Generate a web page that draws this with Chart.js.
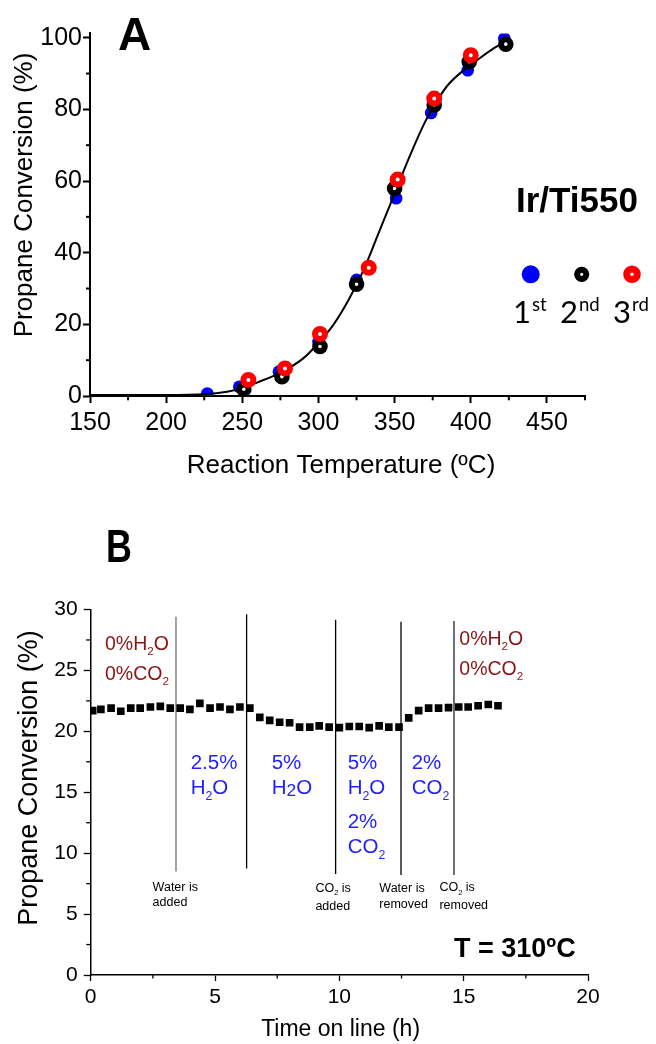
<!DOCTYPE html>
<html><head><meta charset="utf-8">
<script src="https://cdn.jsdelivr.net/npm/chart.js@4.4.1/dist/chart.umd.min.js"></script>
<style>
html,body{margin:0;padding:0;background:#fff;width:656px;height:1044px;overflow:hidden}
#ca{position:absolute;left:0;top:0}
#cb{position:absolute;left:0;top:500px}
</style></head><body>
<canvas id="ca" width="656" height="500"></canvas>
<canvas id="cb" width="656" height="544"></canvas>
<script>
// ---------- Panel A data ----------
const tempRun1 = [227, 248, 274, 300, 325, 351, 374, 398, 422];
const convRun1 = [0.7, 2.6, 6.8, 15.1, 32.4, 55.2, 79.0, 90.9, 99.8];
const tempRun2 = [251, 276, 301, 325, 350, 376, 399, 423];
const convRun2 = [1.9, 5.4, 13.8, 31.2, 57.9, 81.2, 93.3, 98.2];
const tempRun3 = [254, 278, 301, 333, 352, 376, 400];
const convRun3 = [4.5, 7.7, 17.3, 35.8, 60.4, 83.0, 95.1];
const fitTemp = [150, 200, 225, 240, 250, 260, 275, 290, 300, 310, 320, 330, 340, 350, 360, 370, 378, 385, 395, 405, 415, 423];
const fitConv = [0.3, 0.3, 0.5, 1.2, 2.2, 3.8, 6.5, 10.5, 14.8, 20.0, 27.0, 35.5, 46.0, 56.5, 67.0, 76.5, 82.5, 86.8, 90.8, 94.0, 97.0, 99.0];
const runLabels = ['1st', '2nd', '3rd'];
const xTicksA = [150, 200, 250, 300, 350, 400, 450];
const yTicksA = [0, 20, 40, 60, 80, 100];

// ---------- Panel B data ----------
const timeOnLine = [0.08, 0.41, 0.82, 1.21, 1.61, 1.99, 2.40, 2.80, 3.20, 3.60, 3.99, 4.39, 4.80, 5.20, 5.60, 6.00, 6.40,
  6.80, 7.20, 7.60, 8.00, 8.40, 8.81, 9.19, 9.59, 10.00, 10.40, 10.80, 11.20, 11.60, 11.99, 12.40,
  12.79, 13.19, 13.59, 13.99, 14.39, 14.80, 15.18, 15.58, 15.99, 16.38];
const conversionB = [21.7, 21.8, 21.9, 21.65, 21.9, 21.9, 22.0, 22.05, 21.9, 21.9, 21.8, 22.3, 21.9, 22.0, 21.8, 22.0, 21.9,
  21.15, 20.9, 20.75, 20.7, 20.35, 20.35, 20.45, 20.35, 20.3, 20.4, 20.4, 20.3, 20.45, 20.35, 20.35,
  21.1, 21.7, 21.9, 21.9, 21.95, 22.0, 22.0, 22.1, 22.2, 22.1];
const eventTimes = [3.43, 6.27, 9.85, 12.48, 14.61];
const eventTop = [29.4, 29.6, 29.15, 29.0, 29.05];
const eventBottom = [8.5, 8.75, 8.3, 8.2, 8.2];
const eventColors = ['#707070', '#000000', '#000000', '#000000', '#222222'];
const xTicksB = [0, 5, 10, 15, 20];
const yTicksB = [0, 5, 10, 15, 20, 25, 30];

const FONT = "'Liberation Sans', Arial, Helvetica, sans-serif";
const pts = (xs, ys) => xs.map((x, i) => ({x: x, y: ys[i]}));

// minor ticks plugin (drawn from the scales)
const minorTicks = {
  id: 'minorTicks',
  afterDraw(chart, args, opts) {
    const ctx = chart.ctx;
    ctx.save();
    ctx.strokeStyle = '#000';
    for (const spec of opts.specs || []) {
      const sc = chart.scales[spec.id];
      ctx.lineWidth = spec.width;
      for (let v = sc.min + spec.step; v <= sc.max + 1e-9; v += spec.step) {
        const r = v / spec.major;
        if (Math.abs(r - Math.round(r)) < 1e-6) continue;
        ctx.beginPath();
        if (sc.isHorizontal()) {
          const x = sc.getPixelForValue(v);
          ctx.moveTo(x, sc.top); ctx.lineTo(x, sc.top + spec.len);
        } else {
          const y = sc.getPixelForValue(v);
          ctx.moveTo(sc.right, y); ctx.lineTo(sc.right - spec.len, y);
        }
        ctx.stroke();
      }
    }
    ctx.restore();
  }
};

// rich text helper: segments are strings or {sub:'2'} / {sup:'st'}
function rich(ctx, x, y, segs, size, color, weight, family) {
  ctx.save();
  ctx.fillStyle = color;
  ctx.textAlign = 'left';
  ctx.textBaseline = 'alphabetic';
  const fam = family || FONT;
  let cx = x;
  for (const s of segs) {
    if (typeof s === 'string') {
      ctx.font = (weight || '') + ' ' + size + 'px ' + fam;
      ctx.fillText(s, cx, y);
      cx += ctx.measureText(s).width;
    } else if (s.sub !== undefined) {
      const fs = size * (s.scale || 0.6);
      ctx.font = (weight || '') + ' ' + fs + 'px ' + fam;
      ctx.fillText(s.sub, cx, y + size * (s.drop || 0.28));
      cx += ctx.measureText(s.sub).width;
    } else if (s.sup !== undefined) {
      const fs = size * 0.6;
      ctx.font = (weight || '') + ' ' + fs + 'px ' + fam;
      ctx.fillText(s.sup, cx + 1, y - size * 0.38);
      cx += ctx.measureText(s.sup).width + 1;
    }
  }
  ctx.restore();
  return cx;
}

const textA = {
  id: 'textA',
  afterDraw(chart) {
    const ctx = chart.ctx;
    ctx.save();
    ctx.fillStyle = '#000';
    ctx.font = 'bold 46px ' + FONT;
    ctx.textBaseline = 'alphabetic';
    ctx.fillText('A', 118, 50);
    ctx.font = 'bold 35px ' + FONT;
    ctx.fillText('Ir/Ti550', 516, 212);
    // axis titles
    ctx.font = '26px ' + FONT;
    ctx.textAlign = 'center';
    ctx.fillText('Reaction Temperature (ºC)', 341, 473);
    ctx.save();
    ctx.translate(25, 195);
    ctx.rotate(-Math.PI / 2);
    ctx.textBaseline = 'middle';
    ctx.fillText('Propane Conversion (%)', 0, 0);
    ctx.restore();
    // legend markers
    ctx.fillStyle = '#0000ff';
    ctx.beginPath(); ctx.arc(530.7, 274.3, 9, 0, Math.PI * 2); ctx.fill();
    ctx.strokeStyle = '#000'; ctx.lineWidth = 6;
    ctx.beginPath(); ctx.arc(581.7, 274.3, 4.6, 0, Math.PI * 2); ctx.stroke();
    ctx.strokeStyle = '#ff0000'; ctx.lineWidth = 7;
    ctx.beginPath(); ctx.arc(632, 274.3, 5.3, 0, Math.PI * 2); ctx.stroke();
    ctx.restore();
    const lf = "Lato, 'Open Sans', sans-serif";
    rich(ctx, 513, 323, ['1', {sup: 'st'}], 31, '#000', '', lf);
    rich(ctx, 560, 323, ['2', {sup: 'nd'}], 31, '#000', '', lf);
    rich(ctx, 613, 323, ['3', {sup: 'rd'}], 31, '#000', '', lf);
  }
};

new Chart(document.getElementById('ca'), {
  type: 'scatter',
  data: {
    datasets: [
      {label: 'fit', data: pts(fitTemp, fitConv), showLine: true, borderColor: '#000', borderWidth: 2,
        pointRadius: 0, cubicInterpolationMode: 'monotone', fill: false, order: 2},
      {label: runLabels[0], data: pts(tempRun1, convRun1), backgroundColor: '#0000ff', borderWidth: 0, pointRadius: 6.3, order: 3},
      {label: runLabels[1], data: pts(tempRun2, convRun2), backgroundColor: '#ffffff', borderColor: '#000000', borderWidth: 6, pointRadius: 4.8, order: 1},
      {label: runLabels[2], data: pts(tempRun3, convRun3), backgroundColor: '#ffffff', borderColor: '#ff0000', borderWidth: 6, pointRadius: 5, order: 0}
    ]
  },
  options: {
    responsive: false, animation: false, events: [],
    layout: {padding: {left: 0, right: 71, top: 33.4, bottom: 44}},
    plugins: {legend: {display: false}, tooltip: {enabled: false},
      minorTicks: {specs: [{id: 'x', step: 25, major: 50, len: 4.3, width: 2}, {id: 'y', step: 10, major: 20, len: 4, width: 2}]}},
    scales: {
      x: {type: 'linear', min: 150, max: 475,
        afterBuildTicks: s => { s.ticks = xTicksA.map(v => ({value: v})); },
        ticks: {font: {family: FONT, size: 25}, color: '#000', padding: 5, maxRotation: 0, autoSkip: false},
        grid: {display: true, drawOnChartArea: false, drawTicks: true, tickLength: 7, tickWidth: 2, tickColor: '#000'},
        border: {display: true, color: '#000', width: 2},
        afterFit: s => { s.height = 60; }},
      y: {type: 'linear', min: 0, max: 101.2,
        afterBuildTicks: s => { s.ticks = yTicksA.map(v => ({value: v})); },
        ticks: {font: {family: FONT, size: 25}, color: '#000', padding: 1},
        grid: {display: true, drawOnChartArea: false, drawTicks: true, tickLength: 7, tickWidth: 2, tickColor: '#000'},
        border: {display: true, color: '#000', width: 2},
        afterFit: s => { s.width = 90; }}
    }
  },
  plugins: [minorTicks, textA]
});

// ---------- Panel B ----------
const RED = '#8b1515', BLUE = '#1f1fff';
const textB = {
  id: 'textB',
  afterDraw(chart) {
    const ctx = chart.ctx;
    ctx.save();
    ctx.fillStyle = '#000';
    ctx.save();
    ctx.translate(106, 61.7);
    ctx.scale(0.78, 1);
    ctx.font = 'bold 46px ' + FONT;
    ctx.fillText('B', 0, 0);
    ctx.restore();
    ctx.font = 'bold 27px ' + FONT;
    ctx.fillText('T = 310ºC', 454, 456.7);
    ctx.font = '23px ' + FONT;
    ctx.textAlign = 'center';
    ctx.fillText('Time on line (h)', 340.6, 536);
    ctx.save();
    ctx.translate(29.7, 278);
    ctx.rotate(-Math.PI / 2);
    ctx.textBaseline = 'middle';
    ctx.font = '27px ' + FONT;
    ctx.fillText('Propane Conversion (%)', 0, 0);
    ctx.restore();
    ctx.restore();
    // condition labels
    const rs = 19.5, bs = 20.5, ss = 12.5;
    rich(ctx, 105, 150, ['0%H', {sub: '2'}, 'O'], rs, RED);
    rich(ctx, 105, 180, ['0%CO', {sub: '2'}], rs, RED);
    rich(ctx, 459.3, 145, ['0%H', {sub: '2'}, 'O'], rs, RED);
    rich(ctx, 459.3, 175, ['0%CO', {sub: '2'}], rs, RED);
    rich(ctx, 190.7, 269, ['2.5%'], bs, BLUE);
    rich(ctx, 190.7, 294, ['H', {sub: '2'}, 'O'], bs, BLUE);
    rich(ctx, 271.7, 269, ['5%'], bs, BLUE);
    rich(ctx, 271.7, 294, ['H', {sub: '2', scale: 0.85, drop: 0.12}, 'O'], bs, BLUE);
    rich(ctx, 347.7, 269, ['5%'], bs, BLUE);
    rich(ctx, 347.7, 294, ['H', {sub: '2'}, 'O'], bs, BLUE);
    rich(ctx, 347.7, 328, ['2%'], bs, BLUE);
    rich(ctx, 347.7, 353, ['CO', {sub: '2'}], bs, BLUE);
    rich(ctx, 411.7, 269, ['2%'], bs, BLUE);
    rich(ctx, 411.7, 294, ['CO', {sub: '2'}], bs, BLUE);
    rich(ctx, 152.6, 391, ['Water is'], ss, '#000');
    rich(ctx, 152.6, 406, ['added'], ss, '#000');
    rich(ctx, 315.4, 391.7, ['CO', {sub: '2'}, ' is'], ss, '#000');
    rich(ctx, 315.4, 410, ['added'], ss, '#000');
    rich(ctx, 379.3, 392, ['Water is'], ss, '#000');
    rich(ctx, 379.3, 407.7, ['removed'], ss, '#000');
    rich(ctx, 439.4, 391, ['CO', {sub: '2'}, ' is'], ss, '#000');
    rich(ctx, 439.4, 409, ['removed'], ss, '#000');
  }
};

const eventSets = eventTimes.map((t, i) => ({
  label: 'event' + i,
  data: [{x: t, y: eventBottom[i]}, {x: t, y: eventTop[i]}],
  showLine: true, borderColor: eventColors[i], borderWidth: 1.3, pointRadius: 0, fill: false, order: 2
}));

new Chart(document.getElementById('cb'), {
  type: 'scatter',
  data: {
    datasets: [
      {label: 'Propane conversion', data: pts(timeOnLine, conversionB), pointStyle: 'rect', pointRadius: 5.4,
        backgroundColor: '#000', borderWidth: 0, order: 0}
    ].concat(eventSets)
  },
  options: {
    responsive: false, animation: false, events: [],
    layout: {padding: {left: 0, right: 68, top: 109.5, bottom: 19}},
    plugins: {legend: {display: false}, tooltip: {enabled: false},
      minorTicks: {specs: [{id: 'x', step: 2.5, major: 5, len: 3.5, width: 1.3}, {id: 'y', step: 2.5, major: 5, len: 4.5, width: 1.3}]}},
    scales: {
      x: {type: 'linear', min: 0, max: 20,
        afterBuildTicks: s => { s.ticks = xTicksB.map(v => ({value: v})); },
        ticks: {font: {family: FONT, size: 21}, color: '#000', padding: 4, maxRotation: 0, autoSkip: false},
        grid: {display: true, drawOnChartArea: false, drawTicks: true, tickLength: 6, tickWidth: 1.3, tickColor: '#000'},
        border: {display: true, color: '#000', width: 1.5},
        afterFit: s => { s.height = 50; }},
      y: {type: 'linear', min: 0, max: 30,
        afterBuildTicks: s => { s.ticks = yTicksB.map(v => ({value: v})); },
        ticks: {font: {family: FONT, size: 21}, color: '#000', padding: 6},
        grid: {display: true, drawOnChartArea: false, drawTicks: true, tickLength: 7, tickWidth: 1.3, tickColor: '#000'},
        border: {display: true, color: '#000', width: 1.5},
        afterFit: s => { s.width = 90.7; }}
    }
  },
  plugins: [minorTicks, textB]
});
</script></body></html>
